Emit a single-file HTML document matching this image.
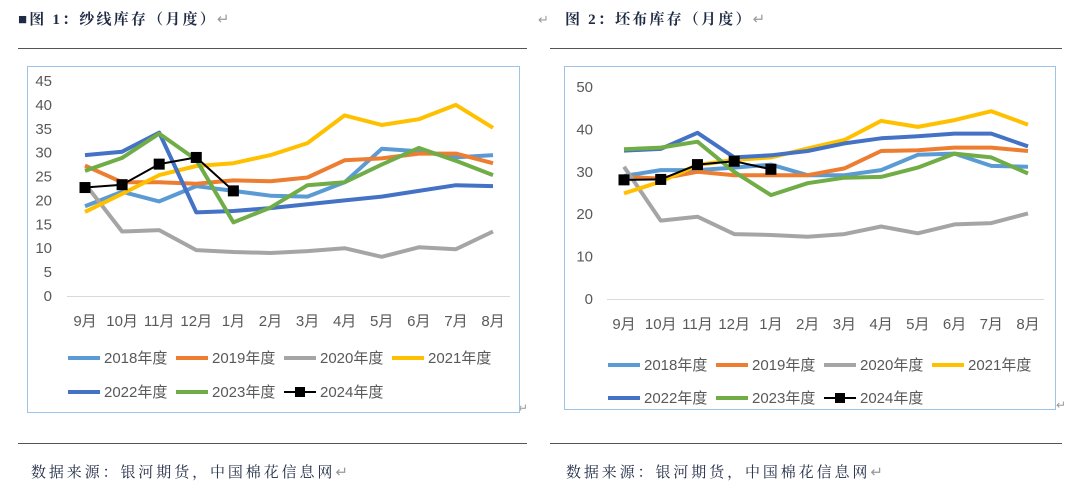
<!DOCTYPE html>
<html><head><meta charset="utf-8">
<style>
body{margin:0;background:#fff;width:1080px;height:493px;overflow:hidden;font-family:"Liberation Serif","Noto Serif CJK SC",serif;}
svg{position:absolute;left:0;top:0}
</style></head>
<body>
<svg id="s" width="1080" height="493" xmlns="http://www.w3.org/2000/svg">
  <text x="18" y="24" font-size="15" font-weight="bold" letter-spacing="2.2" fill="#1f2a44" font-family="Liberation Serif, Noto Serif CJK SC, serif">■图 1：纱线库存（月度）<tspan fill="#999" font-weight="normal">↵</tspan></text>
  <text x="538" y="24" font-size="13" fill="#999">↵</text>
  <text x="565" y="24" font-size="15" font-weight="bold" letter-spacing="2.2" fill="#1f2a44" font-family="Liberation Serif, Noto Serif CJK SC, serif">图 2：坯布库存（月度）<tspan fill="#999" font-weight="normal">↵</tspan></text>
  <line x1="18" y1="48.5" x2="527" y2="48.5" stroke="#555" stroke-width="1"/>
  <line x1="550" y1="48.5" x2="1062" y2="48.5" stroke="#555" stroke-width="1"/>
  <line x1="18" y1="443.5" x2="527" y2="443.5" stroke="#555" stroke-width="1"/>
  <line x1="550" y1="443.5" x2="1062" y2="443.5" stroke="#555" stroke-width="1"/>
  <text x="31" y="477" font-size="15" letter-spacing="2.9" fill="#1f2a44" font-family="Liberation Serif, Noto Serif CJK SC, serif">数据来源：银河期货，中国棉花信息网<tspan fill="#999">↵</tspan></text>
  <text x="566" y="477" font-size="15" letter-spacing="2.9" fill="#1f2a44" font-family="Liberation Serif, Noto Serif CJK SC, serif">数据来源：银河期货，中国棉花信息网<tspan fill="#999">↵</tspan></text>
  <text x="518" y="412" font-size="12" fill="#999">↵</text>
  <text x="1056" y="409" font-size="12" fill="#999">↵</text>
  <g id="c1"></g><g id="c2"></g>
</svg>
<script>
const months = ["9月","10月","11月","12月","1月","2月","3月","4月","5月","6月","7月","8月"];
const seriesNames = ["2018年度","2019年度","2020年度","2021年度","2022年度","2023年度","2024年度"];
const colors = ["#5b9bd5","#ed7d31","#a5a5a5","#ffc000","#4472c4","#70ad47","#000000"];
const yarn2018 = [18.8,21.8,19.8,23,22,21,20.8,23.8,30.8,30.3,29,29.5];
const yarn2019 = [27.3,23.8,23.8,23.5,24.2,24,24.8,28.4,28.8,29.8,29.8,27.8];
const yarn2020 = [23.5,13.5,13.8,9.6,9.2,9,9.4,10,8.2,10.2,9.8,13.5];
const yarn2021 = [17.6,21.4,25.3,27.2,27.8,29.5,32,37.8,35.8,37,40,35.2];
const yarn2022 = [29.5,30.2,34.2,17.5,17.8,18.4,19.2,20,20.8,22,23.2,23];
const yarn2023 = [26.2,28.9,34,28.5,15.4,18.5,23.2,23.8,27.5,31,28.3,25.3];
const yarn2024 = [22.7,23.3,27.6,29,22];
const yarnTicks = [0,5,10,15,20,25,30,35,40,45];
const cloth2018 = [29,30.4,30.4,31,31.7,29.2,29.2,30.4,34,34.3,31.4,31.2];
const cloth2019 = [28.8,28.4,30,29.2,29.2,29.2,30.8,34.9,35.1,35.7,35.7,34.9];
const cloth2020 = [31.2,18.5,19.4,15.3,15.1,14.7,15.3,17.1,15.5,17.6,17.9,20.2];
const cloth2021 = [24.9,27.7,31.6,32.8,33.4,35.5,37.5,42,40.6,42.2,44.3,41.1];
const cloth2022 = [35,35.4,39.2,33.4,33.9,34.9,36.7,37.9,38.4,39,39,36];
const cloth2023 = [35.3,35.7,37.1,30,24.5,27.3,28.6,28.8,31,34.3,33.4,29.6];
const cloth2024 = [28.1,28.2,31.7,32.5,30.6];
const clothTicks = [0,10,20,30,40,50];

const NS="http://www.w3.org/2000/svg";
function mk(tag,attrs,parent){const e=document.createElementNS(NS,tag);for(const k in attrs)e.setAttribute(k,attrs[k]);parent.appendChild(e);return e;}

function chart(g,cfg,series,ticks){
  const box=mk('rect',{x:cfg.bx,y:cfg.by,width:cfg.bw,height:cfg.bh,fill:'#fff',stroke:'#9dc3e6','stroke-width':1},g);
  
  
  const ymax=ticks[ticks.length-1];
  const y=v=>cfg.y0-(v/ymax)*(cfg.y0-cfg.yTop);
  const x=i=>cfg.x0+i*(cfg.x1-cfg.x0)/(months.length-1);
  ticks.forEach(t=>{
    const tx=mk('text',{x:cfg.tickX,y:y(t)+5,'font-size':15,fill:'#595959','text-anchor':'end','font-family':'Liberation Sans, sans-serif'},g);
    tx.textContent=t;
    
    
  });
  const ax=mk('line',{x1:cfg.ax0,x2:cfg.ax1,y1:y(0)+0.5,y2:y(0)+0.5,stroke:'#d9d9d9','stroke-width':1},g);
  
  
  months.forEach((m,i)=>{
    const tx=mk('text',{x:x(i),y:cfg.y0+30,'font-size':15,fill:'#595959','text-anchor':'middle','font-family':'Liberation Sans, Noto Sans CJK SC, sans-serif'},g);
    tx.textContent=m;
    
    
  });
  series.forEach((d,si)=>{
    const pts=d.map((v,i)=>x(i).toFixed(1)+','+y(v).toFixed(1)).join(' ');
    const pl=mk('polyline',{points:pts,fill:'none',stroke:colors[si],'stroke-width':si===6?2:4,'stroke-linejoin':'round'},g);
    
    
    if(si===6){
      d.forEach((v,i)=>{
        const r=mk('rect',{x:x(i)-5.5,y:y(v)-5.5,width:11,height:11,fill:'#000'},g);
        
        
      });
    }
  });
  seriesNames.forEach((n,si)=>{
    const row=si<4?0:1, col=si<4?si:si-4;
    const lx=cfg.lx+col*cfg.lstep, ly=cfg.ly+row*cfg.lrow;
    const lg=mk('g',{},g);
    
    
    mk('line',{x1:lx,x2:lx+32,y1:ly,y2:ly,stroke:colors[si],'stroke-width':si===6?2:4},lg);
    if(si===6) mk('rect',{x:lx+11,y:ly-5,width:10,height:10,fill:'#000'},lg);
    const t=mk('text',{x:lx+36,y:ly+5,'font-size':15,fill:'#595959','font-family':'Liberation Sans, Noto Sans CJK SC, sans-serif'},lg);
    t.textContent=n;
  });
}
chart(document.getElementById('c1'),{bx:27.5,by:66.5,bw:492,bh:346,y0:296,yTop:81,x0:85,x1:493,ax0:67,ax1:510,tickX:52,lx:68,lstep:108,ly:358,lrow:34},
  [yarn2018,yarn2019,yarn2020,yarn2021,yarn2022,yarn2023,yarn2024],yarnTicks);
chart(document.getElementById('c2'),{bx:564.5,by:66.5,bw:491,bh:343,y0:299,yTop:87,x0:624,x1:1028,ax0:607,ax1:1044,tickX:593,lx:608,lstep:108,ly:365,lrow:33},
  [cloth2018,cloth2019,cloth2020,cloth2021,cloth2022,cloth2023,cloth2024],clothTicks);
</script>
</body></html>
